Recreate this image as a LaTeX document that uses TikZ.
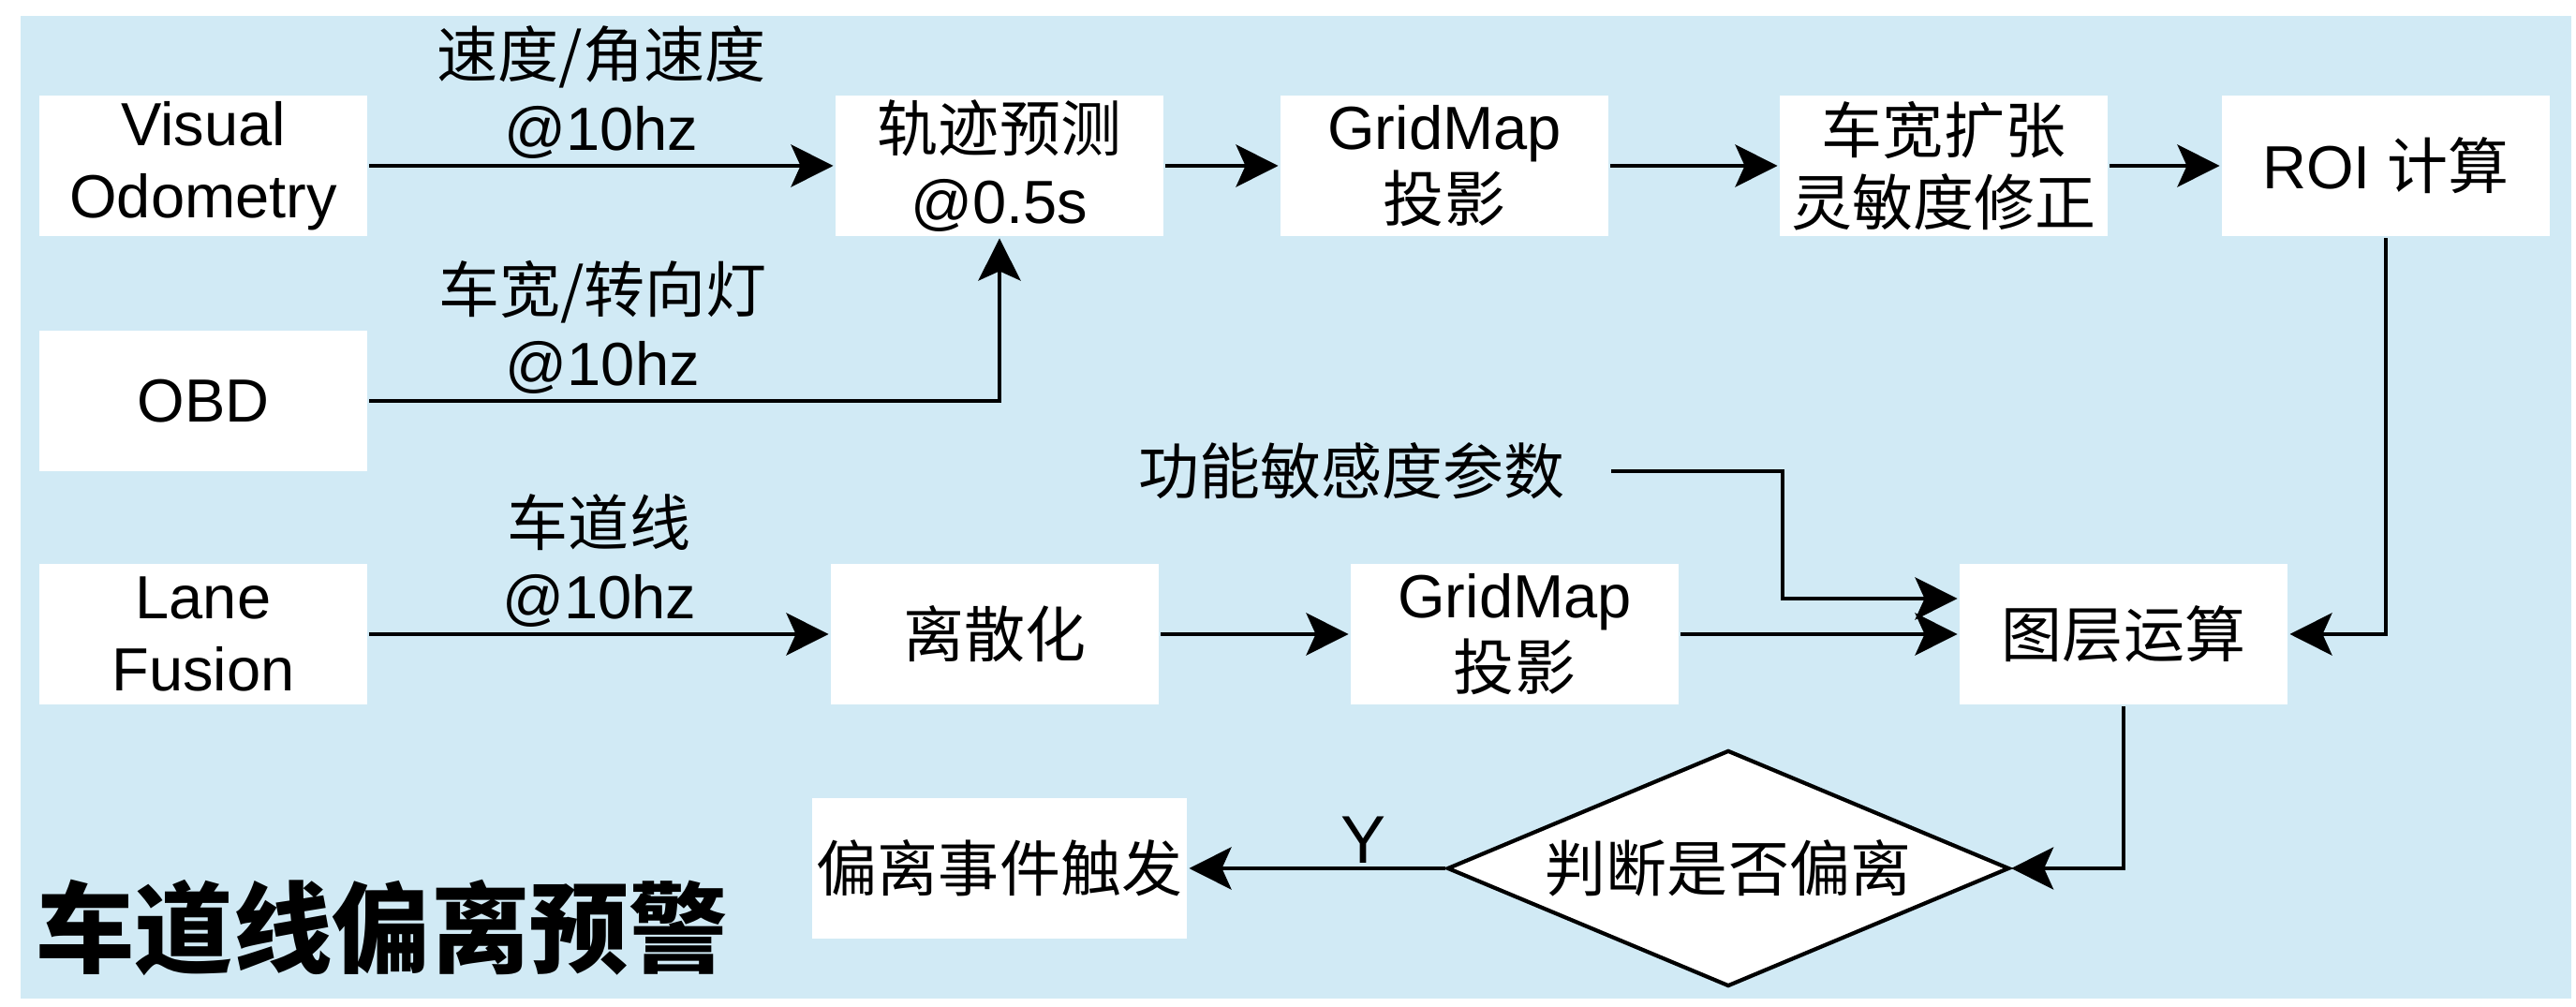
\documentclass[tikz,border=0pt]{standalone}
\usepackage{fontspec}
\setmainfont{Liberation Sans}
\newfontfamily\cjk{Noto Sans CJK SC}
\newcommand{\zh}[1]{{\cjk #1}}
\usetikzlibrary{arrows.meta,shapes.geometric,positioning}
\definecolor{bgblue}{RGB}{209,234,245}

\begin{document}
\begin{tikzpicture}[->,>={Stealth[length=4.5mm,width=4.5mm,inset=1mm]},
                    line width=1.4pt,
                    font=\fontsize{18.5pt}{22pt}\selectfont]
  \tikzstyle{block}=[fill=white,draw=none,minimum width=3.5cm,minimum height=1.5cm,
                     align=center,inner sep=0pt]
  \tikzstyle{decide}=[diamond,draw,fill=white,line width=1.2pt,aspect=2.38,
                      minimum width=6cm,minimum height=2.52cm,inner sep=0pt]
  \tikzstyle{rate}=[above,align=center,inner sep=1.5pt]

  \useasboundingbox (0,0) rectangle (27.5,-10.75);
  \fill[bgblue,-] (0.22,-0.17) rectangle (27.45,-10.66);

  % top row
  \node[block] (vo)    at (2.17,-1.77)  {Visual\\Odometry};
  \node[block] (traj)  at (10.67,-1.77) {\zh{轨迹预测}\\@0.5s};
  \node[block] (grid1) at (15.42,-1.77) {GridMap\\\zh{投影}};
  \node[block] (widen) at (20.75,-1.77) {\zh{车宽扩张}\\\zh{灵敏度修正}};
  \node[block] (roi)   at (25.47,-1.77) {ROI \zh{计算}};

  \node[block] (obd)   at (2.17,-4.28)  {OBD};
  \node[minimum width=5.5cm,inner sep=0pt] (param) at (14.43,-5.03) {\zh{功能敏感度参数}};
  \coordinate (pbend) at (19.03,-5.03);

  % lane row
  \node[block] (lane)  at (2.17,-6.77)  {Lane\\Fusion};
  \node[block] (disc)  at (10.62,-6.77) {\zh{离散化}};
  \node[block] (grid2) at (16.17,-6.77) {GridMap\\\zh{投影}};
  \node[block] (layer) at (22.67,-6.77) {\zh{图层运算}};

  % decision
  \node[decide] (judge) at (18.45,-9.27) {\zh{判断是否偏离}};
  \node[block,minimum width=4cm] (event) at (10.67,-9.27) {\zh{偏离事件触发}};

  \node[anchor=west,inner sep=0pt,font=\fontsize{30pt}{36pt}\selectfont\cjk\bfseries]
       (title) at (0.36,-9.9) {车道线偏离预警};

  \path (vo)    edge node[rate] {\zh{速度/角速度}\\@10hz} (traj)
        (traj)  edge (grid1)
        (grid1) edge (widen)
        (widen) edge (roi)
        (lane)  edge node[rate] {\zh{车道线}\\@10hz} (disc)
        (disc)  edge (grid2)
        (grid2) edge (layer)
        (judge) edge node[above,pos=0.32,inner sep=1pt,font=\fontsize{20.5pt}{24pt}\selectfont] {Y} (event);

  \draw (obd) -| node[rate,pos=0.185] {\zh{车宽/转向灯}\\@10hz} (traj);
  \draw (param.east) -- (pbend) |- ([yshift=0.38cm]layer.west);
  \draw (roi) |- (layer);
  \draw (layer) |- (judge);
\end{tikzpicture}
\end{document}
